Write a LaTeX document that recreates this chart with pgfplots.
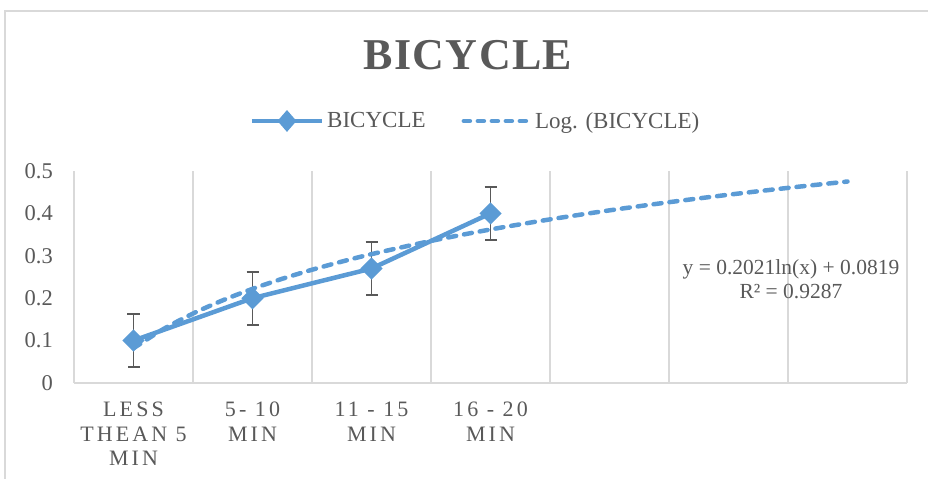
\documentclass[border=0pt]{standalone}
\usepackage{fontspec}
\setmainfont{Liberation Serif}
\newfontfamily\spacedfont[LetterSpace=14]{Liberation Serif}
\newfontfamily\titlefont[LetterSpace=3]{Liberation Serif}
\usepackage{pgfplots}
\pgfplotsset{compat=1.18}
\definecolor{bikeblue}{HTML}{5B9BD5}
\definecolor{txtgray}{HTML}{595959}
\definecolor{gridgray}{HTML}{D9D9D9}

\begin{document}
\begin{tikzpicture}
\path[use as bounding box] (0,0) rectangle (928bp,479bp);
\draw[gridgray, line width=1.5bp] (5bp,-5bp) -- (5bp,468bp) -- (940bp,468bp);
\node[anchor=base, text=txtgray, inner sep=0pt,
      font=\titlefont\bfseries\fontsize{44bp}{50bp}\selectfont] at (468bp,409bp) {BICYCLE};
\begin{axis}[
    at={(74bp,96bp)}, anchor=south west,
    scale only axis, width=833bp, height=212bp,
    xmin=0.5, xmax=7.5, ymin=0, ymax=0.5,
    xtick={1,2,3,4},
    xticklabels={LESS\\THEAN 5\\MIN, 5- 10\\MIN, 11 - 15\\MIN, 16 - 20\\MIN},
    ytick={0,0.1,0.2,0.3,0.4,0.5},
    minor xtick={0.5,1.5,2.5,3.5,4.5,5.5,6.5,7.5},
    xminorgrids,
    minor grid style={gridgray, line width=1.5bp},
    major tick length=0pt, minor tick length=0pt,
    axis x line*=bottom, axis y line*=left,
    x axis line style={gridgray, line width=2.5bp},
    y axis line style={draw=none},
    /pgf/number format/assume math mode=true,
    xticklabel style={align=center, anchor=north, inner sep=0pt, yshift=-19bp, text=txtgray,
        font=\spacedfont\fontsize{22bp}{24.5bp}\selectfont},
    yticklabel style={anchor=east, inner sep=0pt, xshift=-21bp, text=txtgray,
        font=\fontsize{22.5bp}{24.5bp}\selectfont},
    legend style={at={(0.4826,1.236)}, anchor=center, draw=none, fill=none,
        legend columns=2, text=txtgray,
        font=\fontsize{23bp}{24.5bp}\selectfont,
        nodes={inner xsep=3bp},
        /tikz/every even column/.append style={column sep=33bp}},
]
\addplot[bikeblue, line width=4.5bp, mark=square*, mark size=5.6bp,
    mark options={rotate=45, solid, fill=bikeblue},
    legend image code/.code={
      \draw[bikeblue, line width=4.5bp] (0bp,0bp) -- (70bp,0bp);
      \fill[bikeblue] (35bp,-7.5bp) -- (41.5bp,0bp) -- (35bp,7.5bp) -- (28.5bp,0bp) -- cycle;},
    error bars/.cd, y dir=both, y explicit,
    error bar style={txtgray, line width=1.8bp},
    error mark options={txtgray, rotate=90, mark size=6bp, line width=1.8bp}]
  coordinates {(1,0.1) +- (0,0.0625) (2,0.2) +- (0,0.0625)
               (3,0.27) +- (0,0.0625) (4,0.4) +- (0,0.0625)};
\addplot[bikeblue, line width=4.5bp, dash pattern=on 8bp off 8bp, line cap=round, smooth, no marks,
    legend image code/.code={
      \draw[bikeblue, line width=4.5bp, line cap=round, dash pattern=on 6bp off 8bp] (2bp,0bp) -- (68bp,0bp);}]
  coordinates {(1,0.0819) (1.25,0.1270) (1.5,0.1638) (1.75,0.1950) (2,0.2220)
               (2.25,0.2458) (2.5,0.2671) (2.75,0.2863) (3,0.3039) (3.5,0.3351)
               (4,0.3621) (4.5,0.3859) (5,0.4072) (5.5,0.4264) (6,0.4440)
               (6.5,0.4602) (7,0.4752)};
\legend{BICYCLE,Log. (BICYCLE)}
\node[align=center, text=txtgray, inner sep=0pt,
      font=\fontsize{21.5bp}{24bp}\selectfont] at (axis cs:6.525,0.246)
  {y = 0.2021ln(x) + 0.0819\\R² = 0.9287};
\end{axis}
\end{tikzpicture}
\end{document}
